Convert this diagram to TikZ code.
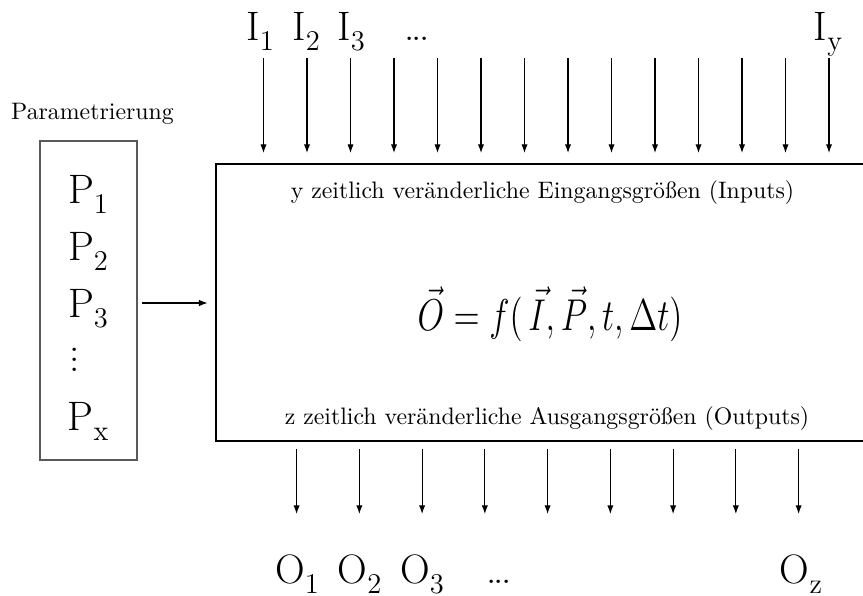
\documentclass[tikz,border=0pt]{standalone}
\usepackage{graphicx}
\usetikzlibrary{arrows.meta}
\newcommand\biglab[2]{{\fontsize{17.28}{20}\selectfont #1\lower4.2pt\hbox{\fontsize{12}{14}\selectfont #2}}}
\newcommand\bigdots{{\fontsize{17.28}{20}\selectfont .\kern-1.2pt.\kern-1.2pt.}}
\begin{document}
\begin{tikzpicture}[x=0.42pt,y=-0.42pt,
  lab/.style={inner sep=0pt, outer sep=0pt, anchor=base},
  txt/.style={inner sep=0pt, outer sep=0pt, anchor=base, font=\fontsize{10}{12}\selectfont},
  arr/.style={-{Latex[length=3.6pt,width=2.6pt]}, line width=0.45pt},
  mainbox/.style={draw, line width=0.84pt, inner sep=0pt, outer sep=0pt, anchor=north west,
     minimum width=278.9pt, minimum height=116.3pt},
  parbox/.style={draw=black!65, line width=0.5pt, inner sep=0pt, outer sep=0pt, anchor=north west,
     minimum width=40.7pt, minimum height=134pt}]
\useasboundingbox (0,0) rectangle (863,595);
\clip (0,0) rectangle (863,595);
% main box (right side runs off the picture)
\node[mainbox] (main) at (216,164) {};
\node[txt] (intxt) at (542.5,198) {y zeitlich veränderliche Eingangsgrößen (Inputs)};
\node[txt] (outtxt) at (547,424) {z zeitlich veränderliche Ausgangsgrößen (Outputs)};
\node[lab] (form) at (550,330) {\scalebox{1}[1.3]{\fontsize{14.4}{17}\selectfont$\vec{O} = f(\,\vec{I},\vec{P},t,\Delta t)$}};
% parameter box
\node[txt] (partitle) at (92.5,119) {Parametrierung};
\node[parbox] (pbox) at (40,141) {};
\node[lab] (p1) at (88,203) {\biglab{P}{1}};
\node[lab] (p2) at (88,260) {\biglab{P}{2}};
\node[lab] (p3) at (88,317) {\biglab{P}{3}};
\node[lab] (pd) at (75,371) {\fontsize{17.28}{20}\selectfont$\vdots$};
\node[lab] (px) at (88,430) {\biglab{P}{x}};
\coordinate (arry) at (0,303);
\draw[-{Latex[length=3.8pt,width=2.8pt]}, line width=0.65pt, shorten <=2.1pt, shorten >=3.4pt]
  (pbox.east |- arry) -- (main.west |- arry);
% input labels and arrows
\node[lab] (i1) at (260,40) {\biglab{I}{1}};
\node[lab] (i2) at (306,40) {\biglab{I}{2}};
\node[lab] (i3) at (351,40) {\biglab{I}{3}};
\node[lab] (idots) at (417,40) {\bigdots};
\node[lab] (iy) at (828,40) {\biglab{I}{y}};
\foreach \i in {0,...,13} {
  \coordinate (it\i) at ({263.5+43.5*\i},58);
  \coordinate (ib\i) at ({263.5+43.5*\i},153);
  \draw[arr] (it\i) -- (ib\i);
}
% output arrows and labels
\foreach \i in {0,...,8} {
  \coordinate (ot\i) at ({296.6+62.75*\i},449);
  \coordinate (ob\i) at ({296.6+62.75*\i},514);
  \draw[arr] (ot\i) -- (ob\i);
}
\node[lab] (o1) at (297,583) {\biglab{O}{1}};
\node[lab] (o2) at (359.5,583) {\biglab{O}{2}};
\node[lab] (o3) at (422,583) {\biglab{O}{3}};
\node[lab] (odots) at (499,583) {\bigdots};
\node[lab] (oz) at (801,583) {\biglab{O}{z}};
\end{tikzpicture}
\end{document}
